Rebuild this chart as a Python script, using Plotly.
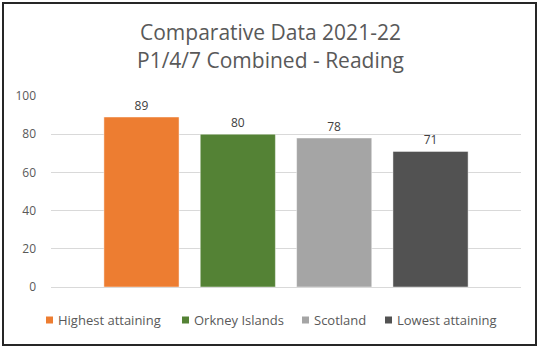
import plotly.graph_objects as go

# Comparative reading attainment, P1/4/7 combined, 2021-22
series = ["Highest attaining", "Orkney Islands", "Scotland", "Lowest attaining"]
values = [89, 80, 78, 71]
colors = ["#ED7D31", "#548235", "#A5A5A5", "#525252"]
category = [""]

W, H = 539, 347
ML, MR, MT, MB = 51, 18, 96, 60
plot_h = H - MT - MB
plot_w = W - ML - MR


def py(p):
    """Pixel row -> paper y."""
    return (H - MB - p) / plot_h


def px(p):
    """Pixel column -> paper x."""
    return (p - ML) / plot_w


fig = go.Figure()

for name, val, col in zip(series, values, colors):
    fig.add_trace(go.Bar(
        x=category, y=[val], name=name,
        marker=dict(color=col, line=dict(color="rgba(255,255,255,0.45)", width=1)),
        text=[str(val)], textposition="outside",
        textfont=dict(family="Open Sans", size=12, color="#404040"),
        cliponaxis=False, showlegend=False,
    ))

# Legend row drawn as small square keys with labels beside them
legend_key_x = [46, 182, 302, 385]
legend_y = 320
shapes = []
annotations = []
for name, col, kx in zip(series, colors, legend_key_x):
    shapes.append(dict(type="rect", xref="paper", yref="paper",
                       x0=px(kx), x1=px(kx + 7),
                       y0=py(legend_y + 3.5), y1=py(legend_y - 3.5),
                       fillcolor=col, line=dict(width=0)))
    annotations.append(dict(text=name, x=px(kx + 10), y=py(legend_y),
                            xref="paper", yref="paper", showarrow=False,
                            xanchor="left", yanchor="middle",
                            font=dict(family="Open Sans", size=13, color="#595959")))

# Chart title, two lines
for line, ty in [("Comparative Data 2021-22", 32), ("P1/4/7 Combined - Reading", 60)]:
    annotations.append(dict(text=line, x=px(270), y=py(ty),
                            xref="paper", yref="paper", showarrow=False,
                            xanchor="center", yanchor="middle",
                            font=dict(family="Open Sans", size=21, color="#595959")))

# Outer frame
shapes.append(dict(type="rect", xref="paper", yref="paper",
                   x0=px(3), x1=px(536), y0=py(345), y1=py(3),
                   line=dict(color="#262626", width=2),
                   fillcolor="rgba(0,0,0,0)"))

grid = "#D9D9D9"
fig.update_layout(
    width=W, height=H,
    margin=dict(l=ML, r=MR, t=MT, b=MB, autoexpand=False),
    paper_bgcolor="white", plot_bgcolor="white",
    barmode="group", bargap=0.18, bargroupgap=0.22,
    font=dict(family="Open Sans", color="#595959"),
    showlegend=False,
    xaxis=dict(showticklabels=False, showgrid=False, zeroline=False,
               showline=True, linecolor=grid, linewidth=1, ticks=""),
    yaxis=dict(range=[0, 100], dtick=20, showgrid=True, gridcolor=grid,
               gridwidth=1, zeroline=False, showline=False, ticks="",
               ticklabelstandoff=14,
               tickfont=dict(family="Open Sans", size=12, color="#595959")),
    annotations=annotations,
    shapes=shapes,
)

fig.write_html("out.html")
